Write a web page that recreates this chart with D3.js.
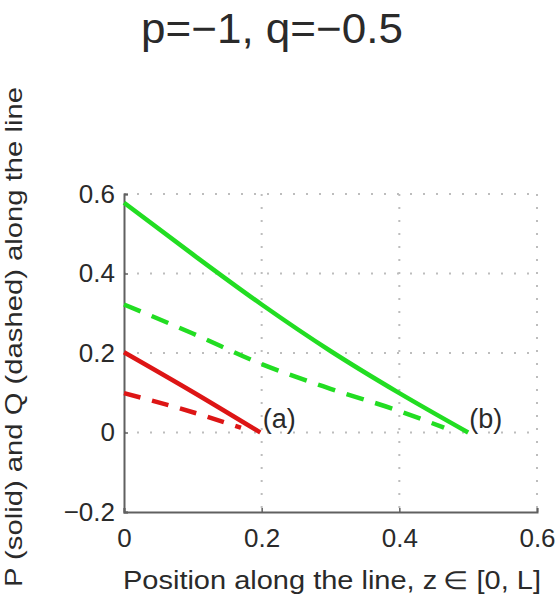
<!DOCTYPE html>
<html>
<head>
<meta charset="utf-8">
<script src="https://cdn.jsdelivr.net/npm/d3@7"></script>
<style>
  body { margin: 0; background: #fff; }
  text { font-family: "Liberation Sans", Arial, sans-serif; fill: #2a2a2a; }
</style>
</head>
<body>
<div id="chart"></div>
<script>
// values
const xTicks = [0, 0.2, 0.4, 0.6];
const yTicks = [-0.2, 0, 0.2, 0.4, 0.6];

const greenP = [[0, 0.578], [0.1, 0.448], [0.2, 0.322], [0.3, 0.205], [0.4, 0.099], [0.5, 0]];
const greenQ = [[0, 0.322], [0.1, 0.249], [0.2, 0.172], [0.3, 0.11], [0.4, 0.054], [0.465, 0.012]];
const redP = [[0, 0.202], [0.1, 0.102], [0.198, 0]];
const redQ = [[0, 0.099], [0.1, 0.051], [0.17, 0.012]];

const labels = [{x: 0.2, y: 0, t: "(a)"}, {x: 0.5, y: 0, t: "(b)"}];

let W = 560, H = 611;
let margin = {top: 194, right: 23, bottom: 99, left: 124};
let width = W - margin.left - margin.right;
let height = H - margin.top - margin.bottom;

let svg = d3.select("#chart").append("svg")
    .attr("width", W).attr("height", H);

let g = svg.append("g")
    .attr("transform", "translate(" + margin.left + "," + margin.top + ")");

let x = d3.scaleLinear().domain([0, 0.6]).range([0, width]);
let y = d3.scaleLinear().domain([-0.2, 0.6]).range([height, 0]);

// dotted grid
g.append("g").selectAll("line")
    .data(xTicks.slice(1))
    .enter().append("line")
    .attr("x1", d => x(d)).attr("x2", d => x(d))
    .attr("y1", 0).attr("y2", height)
    .attr("stroke", "#bdbdbd").attr("stroke-width", 2)
    .attr("stroke-dasharray", "2,11");
g.append("g").selectAll("line")
    .data(yTicks.slice(1))
    .enter().append("line")
    .attr("x1", 0).attr("x2", width)
    .attr("y1", d => y(d)).attr("y2", d => y(d))
    .attr("stroke", "#bdbdbd").attr("stroke-width", 2)
    .attr("stroke-dasharray", "2,11");

// axes
let xAxis = g.append("g")
    .attr("transform", "translate(0," + height + ")")
    .call(d3.axisBottom(x).tickValues(xTicks).tickFormat(d3.format("")).tickSize(-4).tickPadding(17));
let yAxis = g.append("g")
    .call(d3.axisLeft(y).tickValues(yTicks).tickFormat(d => d < 0 ? "\u2212" + Math.abs(d) : d).tickSize(-4).tickPadding(9));

[xAxis, yAxis].forEach(function(a) {
    a.select(".domain").attr("stroke", "#606060").attr("stroke-width", 2);
    a.selectAll(".tick line").attr("stroke", "#606060").attr("stroke-width", 1.5);
    a.selectAll("text")
        .style("font-family", "Liberation Sans, Arial, sans-serif")
        .style("font-size", "26px").attr("fill", "#2a2a2a");
});

// curves
let line = d3.line().x(d => x(d[0])).y(d => y(d[1])).curve(d3.curveMonotoneX);
let series = [
    {data: greenP, color: "#22dd22", dash: null},
    {data: greenQ, color: "#22dd22", dash: "18,12"},
    {data: redP, color: "#dd1515", dash: null},
    {data: redQ, color: "#dd1515", dash: "17,12"}
];
g.selectAll(".curve")
    .data(series)
    .enter().append("path")
    .attr("class", "curve")
    .attr("d", d => line(d.data))
    .attr("fill", "none")
    .attr("stroke", d => d.color)
    .attr("stroke-width", 4.5)
    .attr("stroke-dasharray", d => d.dash);

g.selectAll(".lab")
    .data(labels)
    .enter().append("text")
    .attr("class", "lab")
    .attr("x", d => x(d.x) + 1)
    .attr("y", d => y(d.y) - 5)
    .style("font-size", "27px")
    .text(d => d.t);

// title and axis labels
svg.append("text")
    .attr("x", 272).attr("y", 43)
    .attr("text-anchor", "middle")
    .attr("textLength", 262).attr("lengthAdjust", "spacingAndGlyphs")
    .style("font-size", "42px")
    .text("p=\u22121, q=\u22120.5");

svg.append("text")
    .attr("x", 332).attr("y", 589)
    .attr("text-anchor", "middle")
    .attr("textLength", 418).attr("lengthAdjust", "spacingAndGlyphs")
    .style("font-size", "25px")
    .text("Position along the line, z\u2009\u2208 [0, L]");

svg.append("text")
    .attr("transform", "translate(22,337) rotate(-90)")
    .attr("text-anchor", "middle")
    .attr("textLength", 500).attr("lengthAdjust", "spacingAndGlyphs")
    .style("font-size", "24px")
    .text("P (solid) and Q (dashed) along the line");
</script>
</body>
</html>
